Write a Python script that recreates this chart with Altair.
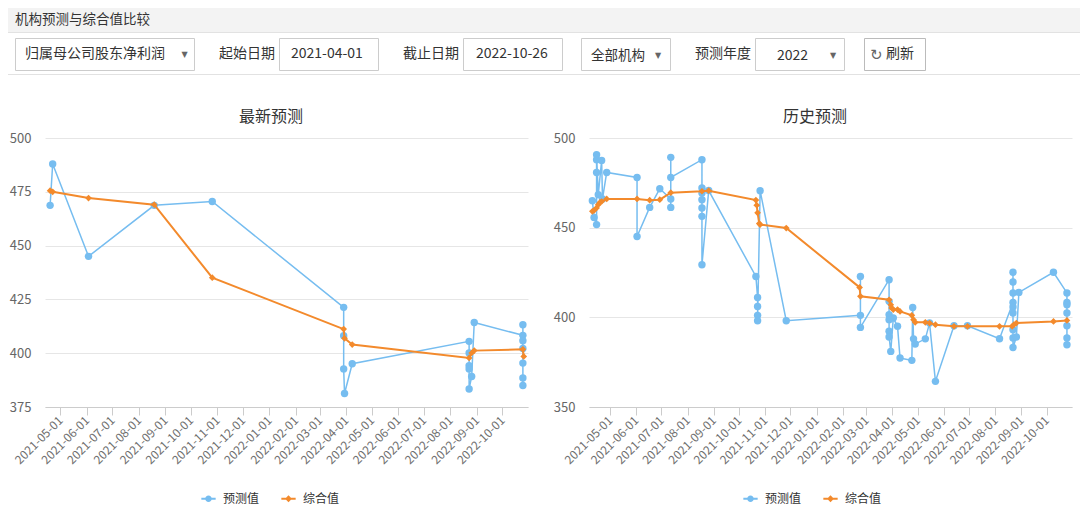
import altair as alt
import pandas as pd

FONT = "Noto Sans CJK SC"
BLUE = "#76BDF0"
ORANGE = "#F38A2C"
SERIES = ["预测值", "综合值"]

# ---------------- data: 最新预测 (latest forecasts) ----------------
latest_pred_dates = ["2021-04-19", "2021-04-22", "2021-06-03", "2021-08-19", "2021-10-26",
                     "2022-03-29", "2022-03-29", "2022-03-29", "2022-03-30", "2022-04-08",
                     "2022-08-23", "2022-08-23", "2022-08-23", "2022-08-23", "2022-08-23",
                     "2022-08-26", "2022-08-29",
                     "2022-10-25", "2022-10-25", "2022-10-25", "2022-10-25", "2022-10-25",
                     "2022-10-25", "2022-10-25"]
latest_pred_values = [468.7, 487.9, 445.0, 468.7, 470.5,
                      421.3, 408.1, 392.7, 381.3, 395.1,
                      405.5, 400.1, 394.2, 392.7, 383.4,
                      389.2, 414.3,
                      408.3, 413.2, 405.8, 402.2, 395.4,
                      388.5, 385.0]
latest_comp_dates = ["2021-04-19", "2021-04-22", "2021-06-03", "2021-08-19", "2021-10-26",
                     "2022-03-29", "2022-03-30", "2022-04-08", "2022-08-23", "2022-08-26",
                     "2022-08-29", "2022-10-25", "2022-10-26"]
latest_comp_values = [475.5, 475.0, 472.1, 469.0, 435.1,
                      411.2, 406.9, 404.0, 397.8, 400.1,
                      401.2, 401.8, 398.5]

# ---------------- data: 历史预测 (history of forecasts) ----------------
hist_pred_dates = ["2021-04-10", "2021-04-12",
                   "2021-04-15", "2021-04-15", "2021-04-15", "2021-04-15",
                   "2021-04-17", "2021-04-21", "2021-04-22", "2021-04-27",
                   "2021-06-02", "2021-06-02", "2021-06-17", "2021-06-29",
                   "2021-07-12", "2021-07-12", "2021-07-12", "2021-07-12",
                   "2021-08-18", "2021-08-18", "2021-08-18", "2021-08-18", "2021-08-18",
                   "2021-08-18", "2021-08-18",
                   "2021-08-26",
                   "2021-10-21", "2021-10-23", "2021-10-23", "2021-10-23", "2021-10-23",
                   "2021-10-26", "2021-11-26",
                   "2022-02-22", "2022-02-22", "2022-02-22",
                   "2022-03-28", "2022-03-28", "2022-03-28", "2022-03-28", "2022-03-28",
                   "2022-03-28",
                   "2022-03-30", "2022-04-02", "2022-04-07", "2022-04-10",
                   "2022-04-24", "2022-04-25", "2022-04-26", "2022-04-28",
                   "2022-05-10", "2022-05-15", "2022-05-22",
                   "2022-06-13", "2022-06-29", "2022-08-06",
                   "2022-08-22", "2022-08-22", "2022-08-22", "2022-08-22", "2022-08-22",
                   "2022-08-22", "2022-08-22", "2022-08-22", "2022-08-22",
                   "2022-08-26", "2022-08-29",
                   "2022-10-09",
                   "2022-10-25", "2022-10-25", "2022-10-25", "2022-10-25", "2022-10-25",
                   "2022-10-25", "2022-10-25"]
hist_pred_values = [465.0, 455.7,
                    451.7, 480.8, 487.9, 490.7,
                    468.4, 487.5, 466.0, 480.8,
                    478.0, 445.1, 461.3, 471.7,
                    466.0, 461.3, 489.2, 478.0,
                    487.9, 472.1, 469.3, 465.6, 461.0,
                    456.3, 429.3,
                    470.7,
                    422.8, 411.1, 406.1, 401.1, 398.1,
                    470.6, 398.1,
                    401.1, 422.8, 394.4,
                    421.0, 408.9, 401.5, 398.7, 392.2,
                    389.0,
                    381.0, 399.6, 395.0, 377.3,
                    376.0, 405.5, 388.0, 385.1,
                    388.0, 396.8, 364.3,
                    395.3, 395.3, 388.1,
                    408.3, 425.1, 419.7, 413.6, 405.8,
                    402.4, 393.1, 388.5, 383.2,
                    389.0, 413.9,
                    425.1,
                    413.6, 408.3, 407.0, 402.4, 395.3,
                    388.5, 384.7]
hist_comp_dates = ["2021-04-10", "2021-04-12", "2021-04-15", "2021-04-17", "2021-04-19",
                   "2021-04-21", "2021-04-27",
                   "2021-06-02", "2021-06-17", "2021-06-29", "2021-07-12", "2021-08-18",
                   "2021-08-26",
                   "2021-10-21", "2021-10-22", "2021-10-23", "2021-10-25", "2021-10-26",
                   "2021-11-26",
                   "2022-02-21", "2022-02-22", "2022-03-28", "2022-03-30", "2022-03-31",
                   "2022-04-02", "2022-04-07", "2022-04-10",
                   "2022-04-24", "2022-04-26", "2022-04-28", "2022-05-10", "2022-05-15",
                   "2022-05-22",
                   "2022-06-13", "2022-06-29", "2022-08-06", "2022-08-21", "2022-08-23",
                   "2022-08-26", "2022-10-09", "2022-10-25"]
hist_comp_values = [459.1, 459.6, 461.0, 462.8, 464.1,
                    464.6, 466.0,
                    466.0, 465.3, 465.6, 469.5, 470.3,
                    470.6,
                    465.4, 462.5, 458.3, 452.3, 451.7,
                    449.8,
                    416.7, 411.7, 409.8, 407.0, 405.2,
                    404.3, 404.3, 403.3,
                    401.1, 398.7, 397.2, 397.2, 396.8,
                    395.9,
                    395.0, 395.0, 395.0, 395.0, 395.9,
                    396.8, 397.7, 398.3]

month_ticks = [(2021, 5), (2021, 6), (2021, 7), (2021, 8), (2021, 9), (2021, 10),
               (2021, 11), (2021, 12), (2022, 1), (2022, 2), (2022, 3), (2022, 4),
               (2022, 5), (2022, 6), (2022, 7), (2022, 8), (2022, 9), (2022, 10)]
latest_y_ticks = [375, 400, 425, 450, 475, 500]
hist_y_ticks = [350, 400, 450, 500]

# ---------------- page decoration (header / controls / panel titles) ----------------
bar_x1 = [8, 8, 8]
bar_x2 = [1080, 1080, 1080]
bar_y1 = [8, 32, 74]
bar_y2 = [32, 33, 75]
bar_fill = ["#F3F3F3", "#E2E2E2", "#E2E2E2"]

box_x1 = [15.5, 279.5, 463.5, 581.5, 755.5, 864.5]
box_x2 = [194.5, 378.5, 562.5, 670.5, 844.5, 925.5]
box_y1 = [38.5, 38.5, 38.5, 38.5, 38.5, 38.5]
box_y2 = [70.5, 70.5, 70.5, 70.5, 70.5, 70.5]
box_stroke = ["#CCCCCC", "#CCCCCC", "#CCCCCC", "#CCCCCC", "#CCCCCC", "#BBBBBB"]

label_text = ["机构预测与综合值比较", "归属母公司股东净利润", "起始日期", "2021-04-01", "截止日期",
              "2022-10-26", "全部机构", "预测年度", "2022", "刷新"]
label_x = [15, 25, 219, 291, 403, 476, 591, 695, 777, 886]
label_y = [20, 54, 54, 54, 54, 54, 56, 54, 56, 54]
label_size = [13.5, 14, 14, 14, 14, 14, 13.5, 14, 14, 14]

icon_text = ["▼", "▼", "▼", "↻"]
icon_x = [181.5, 655, 830, 870]
icon_y = [54.5, 56, 56, 54.5]
icon_size = [8, 8, 8, 15]

title_text = ["最新预测", "历史预测"]
title_x = [271, 815]
title_y = [117, 117]

PW, PH = 483, 269


def dt(s):
    y, m, d = (int(p) for p in s.split("-"))
    return alt.DateTime(year=y, month=m, date=d, utc=True)


tick_values = [alt.DateTime(year=y, month=m, date=1, utc=True) for y, m in month_ticks]

SYM_CIRCLE = ("M-1,-0.13L-0.4,-0.13L-0.4,0.13L-1,0.13Z"
              "M0.4,-0.13L1,-0.13L1,0.13L0.4,0.13Z"
              "M0.46,0A0.46,0.46,0,1,1,-0.46,0A0.46,0.46,0,1,1,0.46,0Z")
SYM_DIAMOND = ("M-1,-0.13L-0.37,-0.13L-0.37,0.13L-1,0.13Z"
               "M0.37,-0.13L1,-0.13L1,0.13L0.37,0.13Z"
               "M0,-0.48L0.48,0L0,0.48L-0.48,0Z")


def series_df(dates, values):
    return pd.DataFrame({"date": dates, "value": values, "idx": list(range(len(dates)))})


def data_panel(pred_dates, pred_values, comp_dates, comp_values,
               x_start, x_end, y_min, y_max, y_ticks, legend_x):
    xenc = alt.X("date:T",
                 scale=alt.Scale(type="utc", domain=[dt(x_start), dt(x_end)], nice=False),
                 axis=alt.Axis(values=tick_values, format="%Y-%m-%d", labelAngle=-45,
                               labelAlign="right", labelBaseline="middle", labelPadding=3,
                               labelFontSize=12, labelFont=FONT, labelColor="#6E6E6E",
                               tickSize=8, tickColor="#CCCCCC", domainColor="#CCCCCC",
                               grid=False, title=None, labelOverlap=False, labelFlush=False))
    yenc = alt.Y("value:Q",
                 scale=alt.Scale(domain=[y_min, y_max], nice=False, zero=False),
                 axis=alt.Axis(values=y_ticks, grid=True, gridColor="#E6E6E6", domain=False,
                               ticks=False, tickSize=0, labelPadding=14, labelFontSize=13,
                               labelFont=FONT, labelColor="#666666", title=None,
                               labelFlush=False))
    pred = alt.Chart(series_df(pred_dates, pred_values))
    comp = alt.Chart(series_df(comp_dates, comp_values))
    leg_df = pd.DataFrame({"series": SERIES, "date": [pred_dates[0]] * 2,
                           "value": [pred_values[0]] * 2})
    leg = dict(title=None, orient="none", legendX=legend_x, legendY=353,
               direction="horizontal", symbolSize=205, symbolStrokeWidth=0,
               symbolOpacity=1, labelFont=FONT, labelFontSize=12, labelColor="#333333",
               labelOffset=7, columnPadding=21, padding=0)
    legend_layer = alt.Chart(leg_df).mark_point(filled=True, opacity=0).encode(
        x=xenc, y=yenc,
        color=alt.Color("series:N", scale=alt.Scale(domain=SERIES, range=[BLUE, ORANGE]),
                        legend=alt.Legend(**leg)),
        shape=alt.Shape("series:N", scale=alt.Scale(domain=SERIES, range=[SYM_CIRCLE, SYM_DIAMOND]),
                        legend=alt.Legend(**leg)),
    )
    return alt.layer(
        pred.mark_line(color=BLUE, strokeWidth=1.5).encode(x=xenc, y=yenc, order=alt.Order("idx:Q")),
        pred.mark_circle(color=BLUE, size=55, opacity=1).encode(x=xenc, y=yenc),
        comp.mark_line(color=ORANGE, strokeWidth=2).encode(x=xenc, y=yenc, order=alt.Order("idx:Q")),
        comp.mark_point(shape="diamond", filled=True, color=ORANGE, size=45, opacity=1).encode(x=xenc, y=yenc),
        legend_layer,
    )


# header layer in page pixel coordinates (independent scales, no axes)
def hx(f):
    return alt.X(f"{f}:Q", scale=alt.Scale(domain=[45, 45 + PW], range=[0, PW], nice=False, zero=False), axis=None)


def hy(f):
    return alt.Y(f"{f}:Q", scale=alt.Scale(domain=[138, 138 + PH], range=[0, PH], nice=False, zero=False), axis=None)


bars = alt.Chart(pd.DataFrame({"x1": bar_x1, "x2": bar_x2, "y1": bar_y1, "y2": bar_y2, "fill": bar_fill})).mark_rect().encode(
    x=hx("x1"), x2=alt.X2("x2:Q"), y=hy("y1"), y2=alt.Y2("y2:Q"),
    fill=alt.Fill("fill:N", scale=None))
boxes = alt.Chart(pd.DataFrame({"x1": box_x1, "x2": box_x2, "y1": box_y1, "y2": box_y2, "stroke": box_stroke})).mark_rect(
    fill="white", strokeWidth=1).encode(
    x=hx("x1"), x2=alt.X2("x2:Q"), y=hy("y1"), y2=alt.Y2("y2:Q"),
    stroke=alt.Stroke("stroke:N", scale=None))
labels = alt.Chart(pd.DataFrame({"t": label_text, "x": label_x, "y": label_y, "s": label_size})).mark_text(
    align="left", baseline="middle", font=FONT, color="#333333").encode(
    x=hx("x"), y=hy("y"), text="t:N", size=alt.Size("s:Q", scale=None))
icons = alt.Chart(pd.DataFrame({"t": icon_text, "x": icon_x, "y": icon_y, "s": icon_size})).mark_text(
    align="left", baseline="middle", font="DejaVu Sans", color="#666666").encode(
    x=hx("x"), y=hy("y"), text="t:N", size=alt.Size("s:Q", scale=None))
titles = alt.Chart(pd.DataFrame({"t": title_text, "x": title_x, "y": title_y})).mark_text(
    align="center", baseline="middle", font=FONT, fontSize=16, color="#333333").encode(
    x=hx("x"), y=hy("y"), text="t:N")
header = alt.layer(bars, boxes, labels, icons, titles)

left_data = data_panel(latest_pred_dates, latest_pred_values, latest_comp_dates, latest_comp_values,
                       "2021-04-13", "2022-10-31", 375, 500, latest_y_ticks, 156)
right_data = data_panel(hist_pred_dates, hist_pred_values, hist_comp_dates, hist_comp_values,
                        "2021-04-06", "2022-10-31", 350, 500, hist_y_ticks, 154)

no_border = alt.ViewBackground(stroke=None, strokeWidth=0)
left = alt.layer(header, left_data).resolve_scale(x="independent", y="independent").properties(
    width=PW, height=PH, view=no_border)
right = right_data.properties(width=PW, height=PH, view=no_border)

chart = alt.hconcat(left, right, spacing=61, bounds="flush").resolve_scale(
    color="independent", shape="independent").properties(padding=0).configure_view(
    stroke=None, strokeWidth=0).configure_axisY(domain=False).configure(background="white")

chart.save("out.html", embed_options={"renderer": "svg", "actions": False})
